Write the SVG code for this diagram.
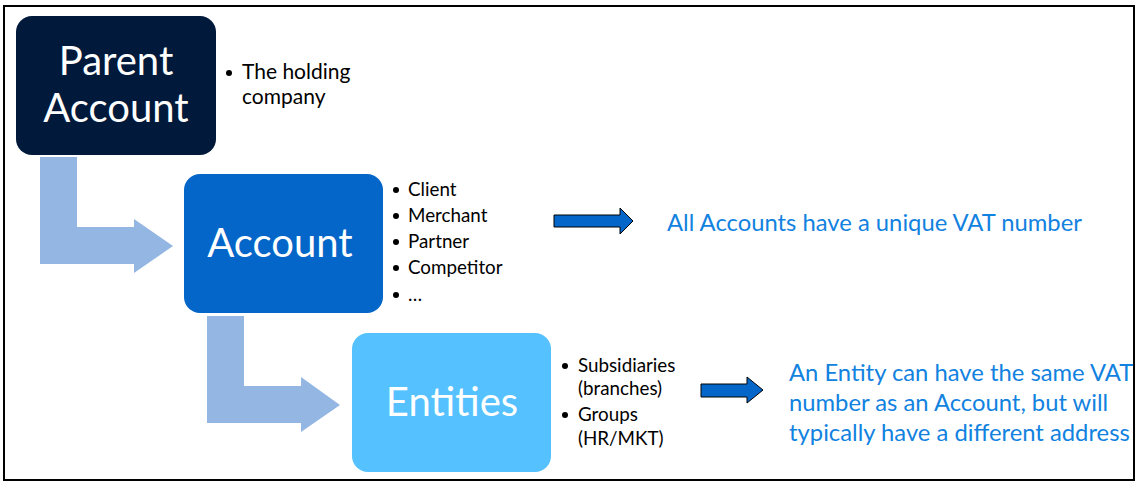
<svg xmlns="http://www.w3.org/2000/svg" width="1139" height="482" viewBox="0 0 1139 482">
<style>
.box-title{font-family:Lato,"Open Sans",sans-serif;font-size:40px;fill:#ffffff;text-anchor:middle}
.bul{font-family:Lato,"Open Sans",sans-serif;font-size:18.8px;fill:#000000}
.bulL{font-family:Lato,"Open Sans",sans-serif;font-size:21px;fill:#000000}
.note{font-family:Lato,"Open Sans",sans-serif;font-size:23.8px;fill:#1282e0}
.dot{fill:#000000}
.lar{fill:#93b6e3}
.bar{fill:#0366c8;stroke:#000000;stroke-width:1}
</style>
<rect x="0" y="0" width="1139" height="482" fill="#ffffff"/>
<rect x="4" y="6" width="1130" height="474" fill="none" stroke="#000000" stroke-width="2"/>
<g id="connectors">
<polygon class="lar" points="40,157 77,157 77,227 134,227 134,219 173,246 134,273 134,264 40,264"/>
<polygon class="lar" points="207,316 244,316 244,386 301,386 301,377 340,405 301,432 301,423 207,423"/>
<polygon class="bar" points="554,215 620,215 620,208 633,221 620,234 620,227 554,227"/>
<polygon class="bar" points="701,384 747,384 747,377 763,390 747,403 747,397 701,397"/>
</g>
<g id="parent-account">
<rect x="16" y="16" width="200" height="139" rx="16" fill="#011a3b"/>
<text class="box-title" x="116" y="75">Parent</text>
<text class="box-title" x="116" y="122">Account</text>
<circle class="dot" cx="229" cy="73" r="3"/>
<text class="bulL" x="242" y="79">The holding</text>
<text class="bulL" x="242" y="104">company</text>
</g>
<g id="account">
<rect x="184" y="174" width="199" height="139" rx="16" fill="#0366c8"/>
<text class="box-title" x="280" y="257">Account</text>
<circle class="dot" cx="396" cy="190" r="3"/>
<circle class="dot" cx="396" cy="216" r="3"/>
<circle class="dot" cx="396" cy="242" r="3"/>
<circle class="dot" cx="396" cy="268" r="3"/>
<circle class="dot" cx="396" cy="295" r="3"/>
<text class="bul" x="408" y="196">Client</text>
<text class="bul" x="408" y="222">Merchant</text>
<text class="bul" x="408" y="248">Partner</text>
<text class="bul" x="408" y="274">Competitor</text>
<text class="bul" x="408" y="301">…</text>
</g>
<g id="entities">
<rect x="352" y="333" width="199" height="139" rx="16" fill="#55c1fe"/>
<text class="box-title" x="452" y="416">Entities</text>
<circle class="dot" cx="565" cy="366" r="3"/>
<circle class="dot" cx="565" cy="415" r="3"/>
<text class="bul" x="578" y="372">Subsidiaries</text>
<text class="bul" x="578" y="395">(branches)</text>
<text class="bul" x="578" y="421">Groups</text>
<text class="bul" x="578" y="445">(HR/MKT)</text>
</g>
<g id="note-accounts">
<text class="note" x="667" y="231">All Accounts have a unique VAT number</text>
</g>
<g id="note-entities">
<text class="note" x="789" y="381">An Entity can have the same VAT</text>
<text class="note" x="789" y="411">number as an Account, but will</text>
<text class="note" x="789" y="441">typically have a different address</text>
</g>
</svg>
